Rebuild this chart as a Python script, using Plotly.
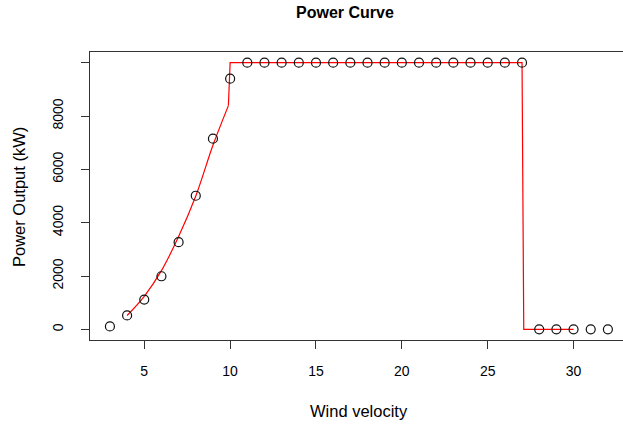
import plotly.graph_objects as go

# ---- data ----
wind = [3, 4, 5, 6, 7, 8, 9, 10, 11, 12, 13, 14, 15, 16, 17, 18, 19, 20,
        21, 22, 23, 24, 25, 26, 27, 28, 29, 30, 31, 32]
power = [110, 520, 1115, 1990, 3270, 5010, 7150, 9400, 10000, 10000, 10000,
         10000, 10000, 10000, 10000, 10000, 10000, 10000, 10000, 10000, 10000,
         10000, 10000, 10000, 10000, 0, 0, 0, 0, 0]

curve_x = [4, 5, 6, 7, 8, 9, 9.9]
curve_y = [520, 1240, 2200, 3480, 5000, 6900, 8390]
step_x = [9.9, 10, 27, 27.1, 30]
step_y = [8390, 10000, 10000, 0, 0]

x_ticks = [5, 10, 15, 20, 25, 30]
y_ticks = [0, 2000, 4000, 6000, 8000, 10000]
y_ticktext = ["0", "2000", "4000", "6000", "8000", ""]

title = "Power Curve"
x_title = "Wind velocity"
y_title = "Power Output (kW)"

# ---- layout geometry ----
W, H = 623, 426
L, R, T, B = 90, 0, 52, 86
PW, PH = W - L - R, H - T - B


def px(x):
    return (x - L) / PW


def py(y):
    return (H - B - y) / PH


FONT = "Liberation Sans, Arial, Helvetica, sans-serif"
AX = "#333333"

fig = go.Figure()
fig.add_trace(go.Scatter(x=curve_x, y=curve_y, mode="lines",
                         line=dict(color="#ff0000", width=1.2, shape="spline"),
                         hoverinfo="skip"))
fig.add_trace(go.Scatter(x=step_x, y=step_y, mode="lines",
                         line=dict(color="#ff0000", width=1.2),
                         hoverinfo="skip"))
fig.add_trace(go.Scatter(x=wind, y=power, mode="markers",
                         marker=dict(symbol="circle-open", size=9,
                                     color="#111111", line=dict(width=1.2))))

fig.update_layout(
    width=W, height=H,
    margin=dict(l=L, r=R, t=T, b=B),
    paper_bgcolor="white", plot_bgcolor="white",
    showlegend=False,
    font=dict(family=FONT, color="black"),
    xaxis=dict(range=[1.84, 32.88], tickvals=x_ticks, ticks="outside",
               ticklen=8, tickcolor=AX, showgrid=False, zeroline=False,
               showline=True, linecolor=AX, linewidth=1, mirror=True,
               tickfont=dict(size=14, family=FONT, color="black"),
               ticklabelstandoff=10),
    yaxis=dict(range=[-400, 10400], tickvals=y_ticks, ticktext=y_ticktext,
               ticks="outside", ticklen=8, tickcolor=AX, showgrid=False,
               zeroline=False, showline=True, linecolor=AX, linewidth=1,
               tickangle=-90,
               tickfont=dict(size=14, family=FONT, color="black"),
               ticklabelstandoff=12),
    annotations=[
        dict(text="<b>" + title + "</b>", x=px(345), y=py(12), xref="paper",
             yref="paper", showarrow=False, xanchor="center", yanchor="middle",
             font=dict(size=16, family=FONT, color="black")),
        dict(text=x_title, x=px(359), y=py(411), xref="paper", yref="paper",
             showarrow=False, xanchor="center", yanchor="middle",
             font=dict(size=16.5, family=FONT, color="black")),
        dict(text=y_title, x=px(19), y=py(197), xref="paper", yref="paper",
             showarrow=False, xanchor="center", yanchor="middle",
             textangle=-90, font=dict(size=16.5, family=FONT, color="black")),
    ],
)

fig.write_html("out.html")
